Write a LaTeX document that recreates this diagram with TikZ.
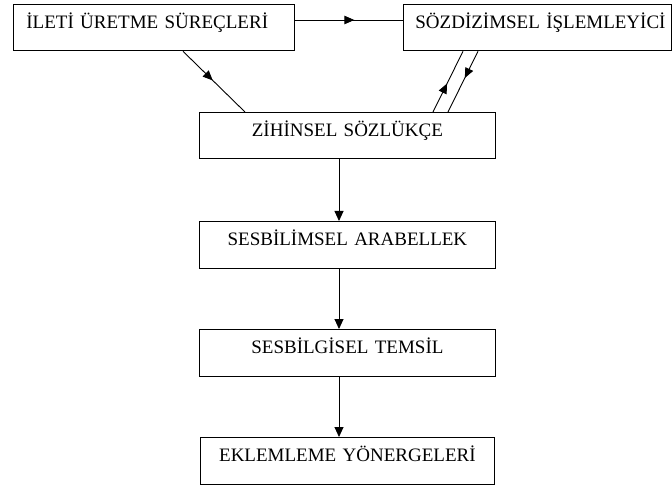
\documentclass[tikz,border=0pt]{standalone}
\usepackage{fontspec}
\setmainfont{Liberation Serif}
\usetikzlibrary{arrows.meta,decorations.markings,calc}

\begin{document}
\begin{tikzpicture}[x=1pt,y=1pt,
  box/.style={draw, line width=0.8pt, inner xsep=0pt, inner ysep=11pt,
    text height=13.5pt, text depth=11pt, anchor=north west,
    font=\fontsize{19}{22}\selectfont, align=left},
  cbox/.style={box, align=center},
  link/.style={line width=0.9pt},
  tip/.style={link, -{Triangle[length=10pt,width=9pt]}},
  midarrow/.style={link, postaction={decorate},
    decoration={markings, mark=at position #1 with {\arrow{Triangle[length=10pt,width=8.5pt]}}}}
]
\useasboundingbox (0,0) rectangle (672,488);

% top row
\node[box, text width=281pt] (ileti) at (13,484) {\hspace*{13pt}İLETİ ÜRETME SÜREÇLERİ};
\node[box, text width=268pt] (sozdizim) at (403,484) {\hspace*{12pt}SÖZDİZİMSEL İŞLEMLEYİCİ};

% central column
\node[cbox, text width=296pt] (sozlukce) at (199,376) {ZİHİNSEL SÖZLÜKÇE};
\node[cbox, text width=296pt] (arabellek) at (199,267) {SESBİLİMSEL ARABELLEK};
\node[cbox, text width=296pt] (temsil) at (199,159) {SESBİLGİSEL TEMSİL};
\node[cbox, text width=294pt] (yonerge) at (200,51) {EKLEMLEME YÖNERGELERİ};

% end points on the box borders
\coordinate (h1) at ($(ileti.north east)+(0,-16)$);
\coordinate (h2) at ($(sozdizim.north west)+(0,-16)$);
\coordinate (d1) at ($(ileti.south west)+(170,0)$);
\coordinate (d2) at ($(sozlukce.north west)+(46,0)$);
\coordinate (u1) at ($(sozlukce.north west)+(234,0)$);
\coordinate (u2) at ($(sozdizim.south west)+(60,0)$);
\coordinate (w1) at ($(sozdizim.south west)+(75,0)$);
\coordinate (w2) at ($(sozlukce.north west)+(249,0)$);
\coordinate (v1) at ($(sozlukce.south west)+(140,0)$);
\coordinate (v2) at ($(arabellek.south west)+(140,0)$);
\coordinate (v3) at ($(temsil.south west)+(140,0)$);

% connectors
\draw[midarrow=0.55] (h1) -- (h2);
\draw[midarrow=0.48] (d1) -- (d2);
\draw[midarrow=0.47] (u1) -- (u2);
\draw[midarrow=0.44] (w1) -- (w2);
\draw[tip] (v1) -- (v1 |- arabellek.north);
\draw[tip] (v2) -- (v2 |- temsil.north);
\draw[tip] (v3) -- (v3 |- yonerge.north);
\end{tikzpicture}
\end{document}
